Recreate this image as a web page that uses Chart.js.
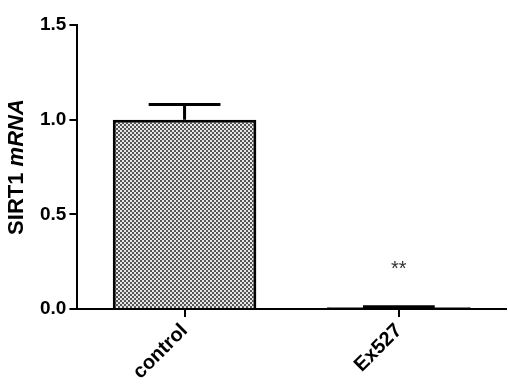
<!DOCTYPE html>
<html>
<head>
<meta charset="utf-8">
<script src="https://cdn.jsdelivr.net/npm/chart.js@4.4.1/dist/chart.umd.min.js"></script>
<style>
    html, body { margin: 0; padding: 0; background: #fff; }
    #wrap { width: 508px; height: 392px; }
</style>
</head>
<body>
<div id="wrap"><canvas id="barChart" width="508" height="392"></canvas></div>
<script>
const categories = ['control', 'Ex527'];
const meanValues = [1.0, 0.01];
const semValues = [0.08, 0.003];
const significance = ['', '**'];
const yTicks = [0, 0.5, 1.0, 1.5];

const FONT = '"Liberation Sans", Arial, sans-serif';

// серый "шахматный" узор для столбиков
function makePattern() {
    const c = document.createElement('canvas');
    c.width = 4;
    c.height = 4;
    const g = c.getContext('2d');
    g.fillStyle = '#e6e6e6';
    g.fillRect(0, 0, 4, 4);
    g.fillStyle = '#555';
    g.fillRect(0, 0, 2, 2);
    g.fillRect(2, 2, 2, 2);
    return g.createPattern(c, 'repeat');
}

const errorBars = {
    id: 'errorBars',
    afterDatasetsDraw(chart) {
        const ctx = chart.ctx;
        const y = chart.scales.y;
        const meta = chart.getDatasetMeta(0);
        ctx.save();
        ctx.strokeStyle = '#000';
        ctx.lineWidth = 3;
        meta.data.forEach((bar, i) => {
            const top = y.getPixelForValue(meanValues[i]);
            const hi = y.getPixelForValue(meanValues[i] + semValues[i]);
            const half = bar.width * 0.25;
            ctx.beginPath();
            ctx.moveTo(bar.x, top);
            ctx.lineTo(bar.x, hi);
            ctx.moveTo(bar.x - half, hi);
            ctx.lineTo(bar.x + half, hi);
            ctx.stroke();
            if (significance[i]) {
                ctx.fillStyle = '#333';
                ctx.font = '20px ' + FONT;
                ctx.textAlign = 'center';
                ctx.textBaseline = 'middle';
                ctx.fillText(significance[i], bar.x, y.getPixelForValue(0.21));
            }
        });
        ctx.restore();
    }
};

// заголовок оси Y: "SIRT1 " обычным, "mRNA" курсивом
const yTitle = {
    id: 'yTitle',
    afterDraw(chart) {
        const ctx = chart.ctx;
        const area = chart.chartArea;
        const part1 = 'SIRT1 ';
        const part2 = 'mRNA';
        ctx.save();
        ctx.fillStyle = '#000';
        ctx.font = 'bold 22px ' + FONT;
        const w1 = ctx.measureText(part1).width;
        ctx.font = 'italic bold 22px ' + FONT;
        const w2 = ctx.measureText(part2).width;
        const cy = (area.top + area.bottom) / 2;
        ctx.translate(23, cy);
        ctx.rotate(-Math.PI / 2);
        ctx.textBaseline = 'alphabetic';
        ctx.textAlign = 'left';
        let x = -(w1 + w2) / 2;
        ctx.font = 'bold 22px ' + FONT;
        ctx.fillText(part1, x, 0);
        ctx.font = 'italic bold 22px ' + FONT;
        ctx.fillText(part2, x + w1, 0);
        ctx.restore();
    }
};

window.onload = function () {
    const pattern = makePattern();
    new Chart(document.getElementById('barChart').getContext('2d'), {
        type: 'bar',
        data: {
            labels: categories,
            datasets: [{
                data: meanValues,
                backgroundColor: [pattern, '#000'],
                borderColor: '#000',
                borderWidth: 3,
                borderSkipped: 'bottom',
                categoryPercentage: 0.67,
                barPercentage: 1.0
            }]
        },
        options: {
            responsive: false,
            animation: false,
            layout: { padding: { top: 25, right: 2, left: 37, bottom: 6 } },
            plugins: {
                legend: { display: false },
                tooltip: { enabled: false }
            },
            scales: {
                x: {
                    grid: {
                        display: true,
                        offset: false,
                        drawOnChartArea: false,
                        drawTicks: true,
                        tickLength: 8,
                        color: '#000',
                        lineWidth: 2
                    },
                    border: { display: true, color: '#000', width: 2 },
                    ticks: {
                        color: '#000',
                        maxRotation: 45,
                        minRotation: 45,
                        padding: 2,
                        font: { family: FONT, size: 20, weight: 'bold' }
                    }
                },
                y: {
                    min: 0,
                    max: 1.5,
                    afterBuildTicks(axis) {
                        axis.ticks = yTicks.map(v => ({ value: v }));
                    },
                    grid: {
                        display: true,
                        drawOnChartArea: false,
                        drawTicks: true,
                        tickLength: 8,
                        color: '#000',
                        lineWidth: 2
                    },
                    border: { display: true, color: '#000', width: 2 },
                    ticks: {
                        color: '#000',
                        padding: 3,
                        font: { family: FONT, size: 19, weight: 'bold' },
                        callback: v => v.toFixed(1)
                    }
                }
            }
        },
        plugins: [errorBars, yTitle]
    });
};
</script>
</body>
</html>
